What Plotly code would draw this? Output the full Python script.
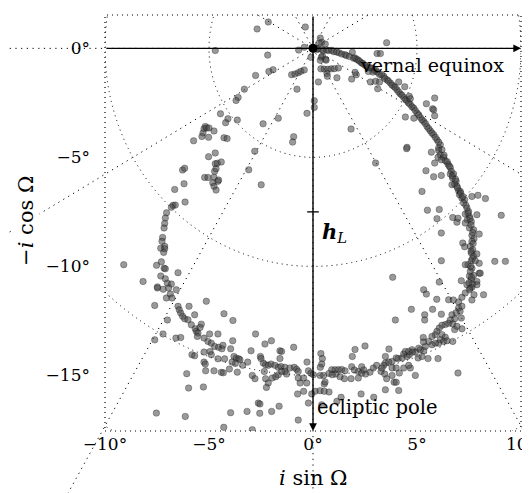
import math
import plotly.graph_objects as go

# ---------------- axes / grid values ----------------
X_RANGE = [-10, 10]
Y_RANGE = [-17.55, 1.53]
x_ticks = [-10, -5, 0, 5, 10]
x_tick_labels = ["−10°", "−5°", "0°", "5°", "10°"]
y_ticks = [0, -5, -10, -15]
y_tick_labels = ["0°", "−5°", "−10°", "−15°"]
grid_radii = [5, 10, 15, 20]
grid_angles = list(range(0, 360, 30))
h_L = -7.5

# ---------------- data: (i sinΩ, -i cosΩ) in degrees ----------------
pole_point = [(0.0, 0.0)]

upper_left = [(-4.7, -0.1), (-3.3, -1.87), (-3.6, -2.25), (-3.7, -2.39), (-4.45, -3.0), (-4.09, -3.23),
              (-4.2, -3.41), (-3.64, -3.29), (-5.18, -3.58), (-5.24, -3.69), (-5.11, -3.65), (-5.0, -3.65),
              (-5.29, -3.88), (-5.34, -4.04), (-4.76, -3.79), (-5.02, -4.08), (-4.28, -4.1), (-4.13, -4.14),
              (-5.74, -4.24), (-2.8, -4.72), (-3.09, -5.57), (-2.49, -6.26)]

near_origin = [(-2.15, 1.21), (-2.69, 0.89), (-0.37, 0.98), (0.35, 0.47), (0.42, 0.28), (0.29, 0.24),
               (0.59, 0.2), (-0.69, -0.08), (-0.42, 0.05), (-0.1, -0.41), (-2.18, -0.31), (0.4, -0.41),
               (0.45, -0.35), (0.6, -0.5), (0.35, -0.55), (0.63, -0.54),
               (0.38, -0.94), (0.54, -0.95), (0.71, -0.96), (0.87, -0.94), (1.03, -0.93), (1.22, -0.9),
               (0.67, -1.15), (0.69, -1.28), (1.15, -1.35), (0.26, -1.54),
               (-0.05, 0.03), (0.05, -0.03), (0.1, 0.02), (0.18, -0.05), (0.25, -0.02), (0.42, -0.05),
               (0.5, -0.1), (0.66, -0.08), (0.75, -0.1), (0.9, -0.09), (1.0, -0.15), (1.14, -0.17),
               (1.25, -0.2), (1.38, -0.26), (1.54, -0.29), (1.6, -0.33), (1.75, -0.37), (1.89, -0.18),
               (1.95, -0.45), (2.02, -0.44), (2.1, -0.5), (2.18, -0.54), (2.25, -0.6), (2.34, -0.67),
               (2.4, -0.7), (2.5, -0.78), (2.58, -0.8), (2.66, -0.87), (2.74, -0.9), (2.82, -0.9),
               (2.95, -1.02), (3.1, -1.1), (3.2, -1.2),
               (3.08, -0.24), (3.24, -0.24), (1.86, -1.41), (2.08, -1.21), (2.02, -1.1), (2.76, -1.54),
               (3.01, -1.51), (3.2, -1.54), (3.11, -1.85), (3.01, -0.99), (2.88, -1.09), (2.66, -1.06),
               (-1.03, -1.21), (-0.87, -1.18), (-0.71, -1.12), (-0.58, -1.05), (-0.42, -0.99),
               (-1.92, -0.98), (-2.12, -1.06), (-2.76, -1.24), (-0.77, -1.87), (0.06, -2.4), (0.06, -2.71),
               (-0.29, -2.98), (-1.67, -3.2), (-2.4, -3.46), (1.83, -3.7), (-0.93, -4.05), (-0.98, -4.3)]

upper_right = [(3.54, 0.26),
               (3.4, -1.28), (3.56, -1.44), (3.72, -1.59), (3.88, -1.74), (4.04, -1.9), (4.2, -2.09),
               (4.36, -2.25), (4.52, -2.4), (4.68, -2.58), (4.84, -2.74), (5.0, -2.97), (5.16, -3.17),
               (5.32, -3.35), (5.48, -3.58), (5.64, -3.78), (5.8, -3.96), (5.96, -4.19), (6.12, -4.42),
               (3.3, -1.2), (3.45, -1.38), (3.62, -1.5), (3.8, -1.68), (3.95, -1.8), (4.12, -2.0),
               (4.28, -2.15), (4.45, -2.35), (4.6, -2.5), (4.76, -2.68), (4.92, -2.85), (5.08, -3.05),
               (5.24, -3.28), (5.4, -3.45), (5.56, -3.68), (5.72, -3.88), (5.88, -4.08), (6.04, -4.3),
               (4.12, -1.54), (4.41, -1.76), (4.63, -2.2), (4.68, -2.31), (5.85, -2.28), (5.45, -2.54),
               (5.75, -2.77), (5.8, -2.82), (5.85, -3.09), (4.44, -3.15), (4.85, -3.2), (4.52, -4.54),
               (3.01, -5.26), (6.04, -4.57)]

east_band = [(6.04, -4.69), (6.2, -4.65), (6.12, -4.88), (6.28, -5.0), (6.01, -5.0), (6.17, -5.11),
             (6.36, -5.15), (6.49, -5.31), (6.6, -5.46), (6.65, -5.64), (6.6, -5.76), (6.76, -5.76),
             (6.71, -5.95), (6.88, -6.1), (6.68, -6.25), (6.81, -6.22), (6.92, -6.33), (7.0, -6.53),
             (7.08, -6.56), (7.04, -6.71), (7.16, -6.87), (7.29, -6.94), (7.24, -7.09), (7.4, -7.32),
             (7.48, -7.48), (7.32, -7.6), (7.52, -7.71), (7.42, -7.86), (7.32, -8.01), (7.61, -7.94),
             (7.52, -8.24), (7.72, -8.32), (7.64, -8.58), (7.74, -8.73), (7.64, -8.85), (7.56, -9.08),
             (7.68, -9.24), (7.61, -9.39), (7.72, -9.54), (7.61, -9.74), (7.45, -9.92), (7.64, -10.08),
             (7.56, -10.23), (7.72, -10.41), (7.52, -10.44), (7.61, -10.61), (7.68, -10.81),
             (7.64, -10.96), (7.4, -10.84), (7.88, -10.69), (7.99, -10.31),
             (6.3, -4.9), (6.45, -5.2), (6.55, -5.4), (6.7, -5.85), (6.85, -6.0), (6.95, -6.4),
             (7.1, -6.65), (7.2, -6.8), (7.35, -7.2), (7.45, -7.55), (7.55, -7.8), (7.6, -8.1),
             (7.68, -8.45), (7.7, -8.95), (7.6, -9.3), (7.66, -9.65), (7.58, -10.0), (7.62, -10.5),
             (7.5, -10.75), (7.55, -11.0)]

east_scatter = [(5.85, -5.26), (5.43, -5.61), (5.8, -5.89), (6.17, -5.83), (5.24, -6.56), (7.64, -6.79),
                (7.93, -6.74), (8.29, -6.89), (5.5, -7.42), (6.07, -7.39), (5.96, -7.81), (6.72, -7.76),
                (6.92, -7.97), (6.97, -7.79), (7.88, -7.63), (9.05, -7.66), (6.17, -8.47), (7.99, -8.52),
                (7.2, -8.93), (7.29, -9.1), (7.88, -9.43), (7.99, -9.86), (7.8, -9.74), (8.74, -9.77),
                (9.25, -9.77), (7.32, -9.92), (6.17, -9.74), (8.04, -10.31), (3.83, -10.5), (7.13, -10.66),
                (6.07, -10.72), (7.88, -10.84), (4.5, -4.6), (5.69, -4.76)]

west_arc = [(-4.7, -4.8), (-5.02, -4.97), (-4.7, -5.29), (-4.6, -5.27), (-4.41, -5.21), (-4.73, -5.64),
            (-4.66, -5.52), (-5.21, -5.92), (-5.05, -5.92), (-4.76, -5.91), (-4.57, -6.1), (-4.54, -6.04),
            (-4.82, -6.16), (-4.76, -6.33), (-4.66, -6.5), (-6.27, -5.58), (-6.17, -5.5), (-6.2, -6.21),
            (-6.65, -6.47), (-6.15, -7.05), (-6.73, -7.2), (-6.62, -7.19), (-6.81, -7.29), (-7.04, -7.54),
            (-7.1, -7.78), (-7.13, -8.03), (-7.16, -8.24), (-7.23, -8.67), (-7.26, -8.85), (-7.13, -9.08),
            (-7.32, -9.17), (-7.13, -9.19), (-7.18, -9.36), (-7.29, -9.79), (-7.52, -9.95), (-7.16, -10.08),
            (-7.1, -10.11), (-7.32, -10.44), (-6.49, -10.29), (-7.1, -10.57), (-7.0, -10.77),
            (-6.81, -10.81), (-7.48, -10.94), (-8.17, -10.69), (-9.1, -9.92)]

southwest = [(-7.48, -10.99), (-7.2, -11.05), (-6.94, -10.99), (-6.57, -11.07), (-7.05, -11.45),
             (-6.86, -11.27), (-6.78, -11.45), (-7.61, -11.79), (-6.49, -11.83), (-6.43, -11.99),
             (-6.36, -12.14), (-6.27, -12.29), (-6.17, -12.4), (-6.01, -12.45), (-5.96, -11.83),
             (-5.69, -12.22), (-7.0, -12.46), (-5.13, -11.6), (-4.28, -12.17), (-3.85, -12.48),
             (-5.85, -12.68), (-5.66, -12.86), (-5.61, -12.98), (-5.53, -13.06), (-5.37, -12.65),
             (-5.43, -12.8), (-7.21, -13.1), (-7.61, -13.37), (-6.59, -13.29), (-6.36, -13.26),
             (-5.56, -13.21), (-5.24, -13.29), (-5.05, -13.44), (-4.89, -13.52), (-4.73, -13.67),
             (-4.54, -13.71), (-4.38, -13.78), (-4.97, -13.1), (-4.57, -13.1), (-4.33, -13.62),
             (-3.86, -13.41), (-3.96, -13.78), (-5.24, -13.93), (-4.95, -13.9), (-4.89, -14.05),
             (-5.82, -14.05), (-5.69, -14.1), (-4.57, -14.24), (-4.25, -14.24), (-3.8, -14.13),
             (-3.69, -14.21), (-3.57, -14.24), (-3.51, -14.28), (-3.73, -14.45), (-3.89, -14.39),
             (-3.38, -14.54), (-5.24, -14.39), (-5.18, -14.48), (-5.16, -14.79), (-4.76, -14.79),
             (-4.41, -14.86), (-4.31, -14.88), (-4.02, -14.71), (-3.64, -14.85), (-6.07, -14.92),
             (-5.98, -15.58), (-5.27, -15.53), (-7.53, -16.73), (-6.14, -16.88), (-3.96, -16.71),
             (-4.29, -17.38)]

south = [(-2.76, -13.1), (-2.98, -13.87), (-2.31, -13.56), (-2.0, -13.41), (-2.53, -14.13), (-1.59, -13.87),
         (-1.51, -13.9), (-0.93, -13.71), (-3.14, -14.39),
         (-2.39, -14.43), (-2.28, -14.51), (-2.15, -14.54), (-2.02, -14.48), (-1.83, -14.54), (-1.67, -14.63),
         (-1.54, -14.59), (-1.35, -14.63), (-1.11, -14.66), (-0.9, -14.63), (-0.79, -14.72),
         (-2.5, -14.23), (-1.59, -14.23), (-0.29, -14.39), (0.38, -14.0), (0.45, -14.23),
         (-2.92, -15.0), (-2.79, -15.15), (-2.34, -14.82), (-2.28, -15.15), (-2.15, -15.35), (-2.24, -15.55),
         (-1.96, -15.12), (-1.79, -15.06), (-1.67, -14.97), (-1.51, -14.82), (-1.35, -14.82), (-1.27, -14.94),
         (-0.71, -14.82), (-0.71, -15.12), (-0.45, -15.12), (-0.62, -15.35), (-0.3, -15.35),
         (-0.22, -14.79), (-0.1, -14.9), (0.02, -14.97), (0.34, -15.0), (0.51, -15.0), (0.54, -15.4),
         (0.58, -15.3), (0.9, -14.74), (1.06, -14.74), (1.22, -14.74), (1.38, -14.73), (1.54, -14.79),
         (1.09, -14.94), (1.3, -15.06), (1.51, -15.15), (0.42, -14.48), (0.35, -14.63), (0.77, -14.91),
         (0.93, -14.97), (1.86, -14.6), (1.99, -14.75), (2.18, -14.82), (2.34, -14.9), (2.53, -14.94),
         (2.74, -14.85), (2.9, -14.66), (3.06, -14.54), (3.27, -14.82), (2.02, -13.81), (2.5, -13.65),
         (1.89, -14.13), (2.34, -14.6), (2.44, -14.75), (1.83, -15.15), (2.18, -15.12),
         (0.1, -15.73), (0.34, -15.7), (0.54, -15.73), (0.77, -15.76), (-0.06, -15.85), (-0.74, -15.85),
         (-0.45, -15.73), (-0.22, -16.27), (0.42, -16.35), (1.15, -16.19), (1.35, -16.0), (2.31, -15.85),
         (2.92, -16.0), (-2.63, -16.27), (-2.55, -16.31), (-2.56, -16.74), (-1.63, -16.41), (-1.99, -16.65),
         (-3.17, -16.65), (-0.71, -17.05), (-2.92, -17.49)]

southeast = [(5.32, -11.07), (5.45, -11.27), (5.95, -11.51), (4.73, -11.97), (3.96, -12.46), (5.37, -12.22),
             (5.37, -12.46), (5.75, -11.97), (6.17, -12.19),
             (6.52, -11.53), (6.75, -11.54), (7.0, -11.63), (7.16, -11.42), (7.32, -11.22), (7.52, -11.07),
             (7.74, -11.3), (7.64, -11.54), (8.2, -11.3),
             (7.0, -11.91), (7.16, -11.83), (7.07, -12.06), (6.88, -12.13), (6.68, -12.22), (6.81, -12.4),
             (6.6, -12.46), (6.52, -12.61), (6.36, -12.67), (6.2, -12.7), (6.07, -12.83), (5.96, -12.98),
             (5.88, -13.13), (5.72, -13.21), (7.13, -12.37), (7.16, -12.86), (6.72, -12.64), (6.81, -12.9),
             (6.92, -12.75),
             (6.2, -13.13), (6.36, -13.25), (6.12, -13.36), (6.28, -13.44), (6.04, -13.52), (5.88, -13.52),
             (5.72, -13.59), (5.56, -13.44), (5.4, -13.67), (5.32, -13.87), (5.16, -13.82), (5.08, -13.75),
             (4.92, -13.93), (4.76, -13.82), (4.63, -14.05), (4.52, -14.13), (4.36, -14.02), (4.28, -14.2),
             (4.09, -14.23), (4.0, -14.2), (3.8, -14.36), (3.64, -14.39), (3.48, -14.43), (3.4, -14.54),
             (3.32, -14.66), (5.3, -13.26), (5.31, -13.47), (6.72, -13.44), (6.44, -13.41), (4.44, -13.9),
             (4.6, -13.9), (4.79, -13.93), (5.53, -14.23), (6.01, -14.23), (3.65, -13.79), (5.05, -14.2),
             (5.24, -14.13), (3.48, -14.13), (3.8, -14.66), (4.0, -14.66), (4.36, -14.66), (4.68, -14.66),
             (4.6, -14.54), (3.45, -14.94), (3.54, -15.15), (3.8, -15.0), (3.9, -15.31), (4.0, -15.31),
             (4.12, -15.69), (3.48, -15.66), (4.92, -15.0), (6.97, -14.89), (4.15, -14.89)]

regions = [upper_left, near_origin, upper_right, east_band, east_scatter, west_arc, southwest, south, southeast]
pts = [p for r in regions for p in r]
xs = [p[0] for p in pts]
ys = [p[1] for p in pts]

# ---------------- figure ----------------
SERIF = "DejaVu Serif"
DOT = "1px,4px"

fig = go.Figure()
fig.add_trace(go.Scatter(
    x=xs, y=ys, mode="markers",
    marker=dict(size=6.5, color="rgba(70,70,70,0.55)", line=dict(width=0.8, color="rgba(0,0,0,0.35)")),
    hoverinfo="skip", showlegend=False))
fig.add_trace(go.Scatter(
    x=[p[0] for p in pole_point], y=[p[1] for p in pole_point], mode="markers",
    marker=dict(size=9, color="black"), hoverinfo="skip", showlegend=False))

shapes = []
# circles of constant inclination (clipped to the frame)
for r in grid_radii:
    shapes.append(dict(type="circle", xref="x", yref="y", x0=-r, x1=r, y0=-r, y1=r,
                       line=dict(color="black", width=1, dash=DOT), layer="below"))

# radial lines of constant node
def to_paper(x, y):
    return ((x - X_RANGE[0]) / (X_RANGE[1] - X_RANGE[0]),
            (y - Y_RANGE[0]) / (Y_RANGE[1] - Y_RANGE[0]))

R_LONG = 30
for a in grid_angles:
    ex = R_LONG * math.cos(math.radians(a))
    ey = R_LONG * math.sin(math.radians(a))
    if 0 < a < 180:
        shapes.append(dict(type="line", xref="x", yref="y", x0=0, y0=0, x1=ex, y1=ey,
                           line=dict(color="black", width=1, dash="1.2px,4.5px"), layer="below"))
    else:
        p0 = to_paper(0, 0)
        p1 = to_paper(ex, ey)
        shapes.append(dict(type="line", xref="paper", yref="paper", x0=p0[0], y0=p0[1], x1=p1[0], y1=p1[1],
                           line=dict(color="black", width=1, dash="1.2px,4.5px"), layer="below"))

# dotted frame
shapes.append(dict(type="rect", xref="paper", yref="paper", x0=0, x1=1, y0=0, y1=1,
                   line=dict(color="black", width=1.2, dash=DOT), layer="below"))
# tick marking h_L on the pole axis
shapes.append(dict(type="line", xref="x", yref="y", x0=-0.28, x1=0.28, y0=h_L, y1=h_L,
                   line=dict(color="black", width=1.3)))
fig.update_layout(shapes=shapes)

annotations = [
    dict(x=X_RANGE[1], y=0, ax=X_RANGE[0], ay=0, xref="x", yref="y", axref="x", ayref="y",
         text="", showarrow=True, arrowhead=2, arrowsize=1.1, arrowwidth=1.4, arrowcolor="black"),
    dict(x=0, y=Y_RANGE[0], ax=0, ay=Y_RANGE[1], xref="x", yref="y", axref="x", ayref="y",
         text="", showarrow=True, arrowhead=2, arrowsize=1.1, arrowwidth=1.4, arrowcolor="black"),
    dict(x=5.7, y=-0.75, xref="x", yref="y", text="vernal equinox", showarrow=False,
         font=dict(family=SERIF, size=19, color="black")),
    dict(x=3.1, y=-16.45, xref="x", yref="y", text="ecliptic pole", showarrow=False,
         font=dict(family=SERIF, size=19.5, color="black")),
    dict(x=1.05, y=-8.43, xref="x", yref="y", text="<b><i>h</i></b><sub><i>L</i></sub>", showarrow=False,
         font=dict(family=SERIF, size=21, color="black")),
    dict(x=0.5, y=-0.112, xref="paper", yref="paper", text="<i>i</i> sin Ω", showarrow=False,
         xanchor="center", yanchor="middle",
         font=dict(family=SERIF, size=21, color="black")),
    dict(x=-0.19, y=0.505, xref="paper", yref="paper", text="−<i>i</i> cos Ω", showarrow=False,
         xanchor="center", yanchor="middle",
         textangle=-90, bgcolor="white",
         font=dict(family=SERIF, size=21, color="black")),
]
fig.update_layout(annotations=annotations)

fig.update_xaxes(range=X_RANGE, tickvals=x_ticks, ticktext=x_tick_labels, showgrid=False, zeroline=False,
                 showline=False, ticks="", ticklabelstandoff=1,
                 tickfont=dict(family=SERIF, size=17, color="black"))
fig.update_yaxes(range=Y_RANGE, tickvals=y_ticks, ticktext=y_tick_labels, showgrid=False, zeroline=False,
                 showline=False, ticks="", ticklabelstandoff=14,
                 tickfont=dict(family=SERIF, size=17, color="black"))

fig.update_layout(width=530, height=493, margin=dict(l=97, r=17, t=7, b=70, autoexpand=False),
                  plot_bgcolor="white", paper_bgcolor="white", showlegend=False,
                  font=dict(family=SERIF, color="black"))

fig.write_html("out.html")
